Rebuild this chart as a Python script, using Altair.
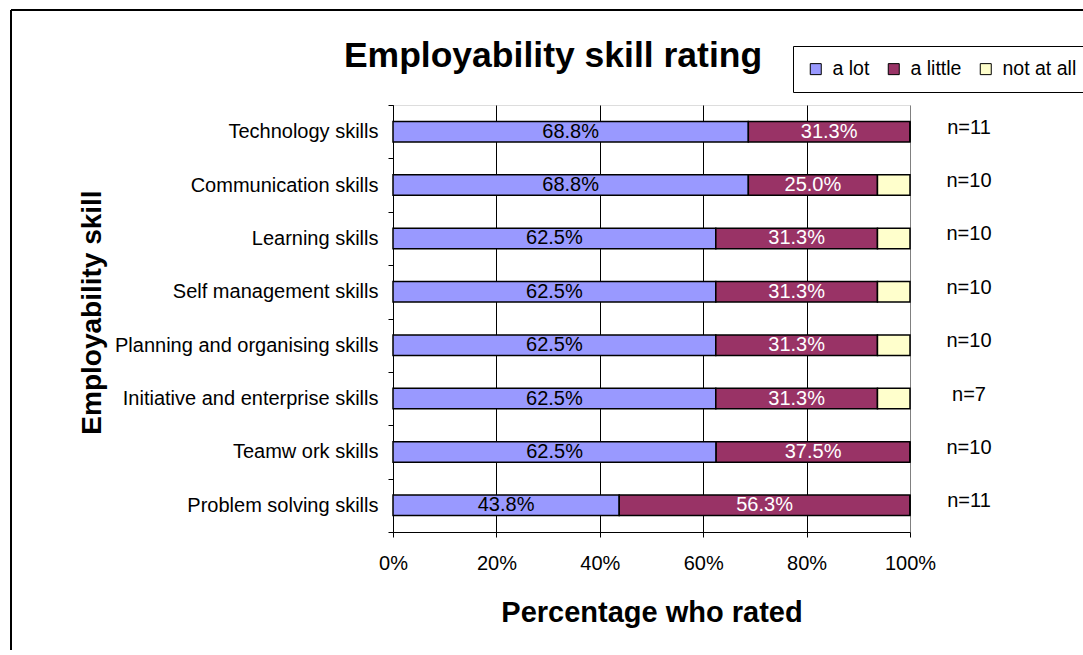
import altair as alt
import pandas as pd

skills = ["Technology skills", "Communication skills", "Learning skills\u00a0",
          "Self management skills", "Planning and organising skills",
          "Initiative and enterprise skills\u00a0", "Teamw ork skills",
          "Problem solving skills\u00a0"]
ratings = ["a lot", "a little", "not at all"]
a_lot = [68.8, 68.8, 62.5, 62.5, 62.5, 62.5, 62.5, 43.8]
a_little = [31.3, 25.0, 31.3, 31.3, 31.3, 31.3, 37.5, 56.3]
not_at_all = [0.0, 6.3, 6.3, 6.3, 6.3, 6.3, 0.0, 0.0]
n_labels = ["n=11", "n=10", "n=10", "n=10", "n=10", "n=7", "n=10", "n=11"]
colors = ["#9999FF", "#993366", "#FFFFCC"]
x_ticks = [0, 0.2, 0.4, 0.6, 0.8, 1.0]
chart_title = "Employability skill rating"

rows = []
for i, s in enumerate(skills):
    for j, (r, vals) in enumerate(zip(ratings, [a_lot, a_little, not_at_all])):
        rows.append({"skill": s, "rating": r, "value": vals[i], "ord": j})
df = pd.DataFrame(rows)
ndf = pd.DataFrame({"skill": skills, "n": n_labels})

FONT = "Liberation Sans"

y_enc = alt.Y("skill:N", sort=skills,
              scale=alt.Scale(paddingInner=0, paddingOuter=0),
              axis=alt.Axis(title="Employability skill", tickBand="extent",
                            labelFontSize=20, labelPadding=10, labelLimit=400,
                            tickSize=5, titleFontSize=28, titleFontWeight="bold",
                            titleX=-287, titleY=207, domainColor="black", tickColor="black",
                            labelColor="black", titleColor="black", grid=False))

bars = alt.Chart(df).mark_bar(size=20.5, stroke="black", strokeWidth=1.5).encode(
    y=y_enc,
    x=alt.X("value:Q", stack="normalize",
            scale=alt.Scale(domain=[0, 1], nice=False),
            axis=alt.Axis(title="Percentage who rated", format=".0%", values=x_ticks,
                          grid=True, labelFlush=False,
                          gridColor={"condition": {"test": "datum.value >= 1", "value": "#808080"},
                                     "value": "black"},
                          gridWidth=1, labelFontSize=20, labelPadding=16, tickSize=5,
                          titleFontSize=29, titleFontWeight="bold", titlePadding=25,
                          domainColor="black", tickColor="black", labelColor="black",
                          titleColor="black")),
    color=alt.Color("rating:N", scale=alt.Scale(domain=ratings, range=colors),
                    legend=alt.Legend(title=None, orient="none", legendX=400, legendY=-59,
                                      direction="horizontal", fillColor="white",
                                      strokeColor="black", padding=13, labelFontSize=19.5,
                                      labelFont=FONT, labelColor="black",
                                      symbolType="square", symbolSize=121,
                                      symbolStrokeColor="black", symbolStrokeWidth=1,
                                      symbolOpacity=1, labelOffset=7, columnPadding=14,
                                      cornerRadius=0)),
    order=alt.Order("ord:Q"),
)

labels = alt.Chart(df).transform_stack(
    stack="value", groupby=["skill"], as_=["x0", "x1"], offset="normalize",
    sort=[alt.SortField("ord", order="ascending")]
).transform_calculate(
    mid="(datum.x0 + datum.x1) / 2",
    label="format(datum.value, '.1f') + '%'"
).transform_filter(
    "datum.rating != 'not at all' && datum.value > 0"
).mark_text(fontSize=20, font=FONT).encode(
    x=alt.X("mid:Q"),
    y=alt.Y("skill:N", sort=skills),
    text="label:N",
    color=alt.condition("datum.rating == 'a little'", alt.value("white"), alt.value("black")),
)

nlayer = alt.Chart(ndf).mark_text(fontSize=20, font=FONT, color="black", dy=-4).encode(
    y=alt.Y("skill:N", sort=skills),
    x=alt.value(576),
    text="n:N",
)

one = pd.DataFrame({"t": [chart_title]})
title_mark = alt.Chart(one).mark_text(fontSize=35.5, font=FONT, fontWeight="bold",
                                      color="black", baseline="middle", align="center").encode(
    x=alt.value(160), y=alt.value(-49), text="t:N")
frame_v = alt.Chart(one).mark_rule(color="black", strokeWidth=2).encode(
    x=alt.value(-382), y=alt.value(-95), y2=alt.value(560))
frame_h = alt.Chart(one).mark_rule(color="black", strokeWidth=2).encode(
    x=alt.value(-382), x2=alt.value(700), y=alt.value(-95))

chart = alt.layer(bars, labels, nlayer, title_mark, frame_v, frame_h).properties(
    width=517, height=427,
    autosize=alt.AutoSizeParams(type="none"),
    padding={"left": 393, "top": 105, "right": 173, "bottom": 118},
).configure_view(
    fill="#C0C0C0", stroke="#808080", strokeWidth=1.5
).configure_axis(
    labelFont=FONT, titleFont=FONT
).configure(background="white")

chart.save("out.html", embed_options={"renderer": "svg", "actions": False})
